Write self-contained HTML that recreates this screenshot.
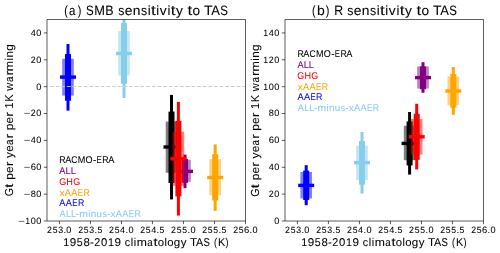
<!DOCTYPE html>
<html><head><meta charset="utf-8"><style>
html,body{margin:0;padding:0;background:#fff;width:500px;height:253px;overflow:hidden}
svg{display:block;will-change:transform}
text{font-family:"Liberation Sans", sans-serif}
g.t{stroke-width:0.06px}
</style></head><body>
<svg width="500" height="253" viewBox="0 0 500 253" text-rendering="geometricPrecision">
<rect x="0" y="0" width="500" height="253" fill="#fff"/>
<clipPath id="c0"><rect x="47.0" y="19.5" width="198.5" height="201.5"/></clipPath>
<clipPath id="c1"><rect x="285.0" y="19.5" width="198.5" height="201.5"/></clipPath>
<g clip-path="url(#c0)"><rect x="165.70" y="121.60" width="11.60" height="51.20" fill="#000000" fill-opacity="0.5"/><rect x="168.50" y="111.60" width="6.00" height="71.40" fill="#000000"/><rect x="170.00" y="94.90" width="3.00" height="104.50" fill="#000000"/><rect x="163.50" y="145.30" width="16.00" height="3.40" fill="#000000"/><rect x="179.20" y="159.80" width="11.60" height="22.00" fill="#800080" fill-opacity="0.5"/><rect x="182.00" y="158.90" width="6.00" height="23.90" fill="#800080"/><rect x="183.50" y="154.60" width="3.00" height="33.60" fill="#800080"/><rect x="177.00" y="169.70" width="16.00" height="3.40" fill="#800080"/><rect x="172.60" y="131.80" width="11.60" height="54.00" fill="#ff0000" fill-opacity="0.5"/><rect x="175.40" y="120.80" width="6.00" height="75.60" fill="#ff0000"/><rect x="176.90" y="101.90" width="3.00" height="113.70" fill="#ff0000"/><rect x="170.40" y="157.10" width="16.00" height="3.40" fill="#ff0000"/><rect x="209.40" y="159.20" width="11.60" height="36.00" fill="#ffa500" fill-opacity="0.5"/><rect x="212.20" y="154.20" width="6.00" height="46.20" fill="#ffa500"/><rect x="213.70" y="144.40" width="3.00" height="66.40" fill="#ffa500"/><rect x="207.20" y="175.80" width="16.00" height="3.40" fill="#ffa500"/><rect x="62.20" y="58.80" width="11.60" height="36.80" fill="#0000ff" fill-opacity="0.5"/><rect x="65.00" y="54.00" width="6.00" height="46.70" fill="#0000ff"/><rect x="66.50" y="44.00" width="3.00" height="66.60" fill="#0000ff"/><rect x="60.00" y="75.40" width="16.00" height="3.40" fill="#0000ff"/><rect x="118.20" y="31.00" width="11.60" height="44.60" fill="#87ceeb" fill-opacity="0.5"/><rect x="121.00" y="23.00" width="6.00" height="60.60" fill="#87ceeb"/><rect x="122.50" y="15.00" width="3.00" height="83.00" fill="#87ceeb"/><rect x="116.00" y="51.80" width="16.00" height="3.40" fill="#87ceeb"/></g>
<line x1="49.8" y1="86.5" x2="245.5" y2="86.5" stroke="#cccccc" stroke-width="1" stroke-dasharray="3.8 1.86"/>
<g clip-path="url(#c1)"><rect x="403.80" y="125.80" width="11.60" height="34.40" fill="#000000" fill-opacity="0.5"/><rect x="406.60" y="121.40" width="6.00" height="44.00" fill="#000000"/><rect x="408.10" y="112.00" width="3.00" height="62.60" fill="#000000"/><rect x="401.60" y="141.70" width="16.00" height="3.40" fill="#000000"/><rect x="417.20" y="66.40" width="11.60" height="22.20" fill="#800080" fill-opacity="0.5"/><rect x="420.00" y="66.40" width="6.00" height="22.80" fill="#800080"/><rect x="421.50" y="62.20" width="3.00" height="30.60" fill="#800080"/><rect x="415.00" y="75.90" width="16.00" height="3.40" fill="#800080"/><rect x="410.90" y="119.00" width="11.60" height="35.60" fill="#ff0000" fill-opacity="0.5"/><rect x="413.70" y="113.80" width="6.00" height="46.00" fill="#ff0000"/><rect x="415.20" y="103.80" width="3.00" height="65.60" fill="#ff0000"/><rect x="408.70" y="135.10" width="16.00" height="3.40" fill="#ff0000"/><rect x="447.50" y="76.40" width="11.60" height="28.80" fill="#ffa500" fill-opacity="0.5"/><rect x="450.30" y="74.00" width="6.00" height="33.60" fill="#ffa500"/><rect x="451.80" y="67.00" width="3.00" height="47.80" fill="#ffa500"/><rect x="445.30" y="89.30" width="16.00" height="3.40" fill="#ffa500"/><rect x="300.40" y="172.00" width="11.60" height="26.40" fill="#0000ff" fill-opacity="0.5"/><rect x="303.20" y="170.60" width="6.00" height="29.40" fill="#0000ff"/><rect x="304.70" y="165.20" width="3.00" height="40.00" fill="#0000ff"/><rect x="298.20" y="183.70" width="16.00" height="3.40" fill="#0000ff"/><rect x="356.20" y="145.80" width="11.60" height="34.20" fill="#87ceeb" fill-opacity="0.5"/><rect x="359.00" y="141.00" width="6.00" height="43.60" fill="#87ceeb"/><rect x="360.50" y="132.00" width="3.00" height="61.60" fill="#87ceeb"/><rect x="354.00" y="160.90" width="16.00" height="3.40" fill="#87ceeb"/></g>
<path d="M47.0,19.5 L245.5,19.5 L245.5,221.0 L47.0,221.0 Z" fill="none" stroke="#000" stroke-width="0.64"/>
<path d="M285.0,19.5 L483.5,19.5 L483.5,221.0 L285.0,221.0 Z" fill="none" stroke="#000" stroke-width="0.64"/>
<line x1="59.41" y1="221.0" x2="59.41" y2="224.2" stroke="#000" stroke-width="0.64"/>
<g class="t" transform="translate(0,232.80)" font-size="9.5" fill="#000" stroke="#000"><text transform="translate(49.47,0.00) scale(0.926,0.969)" x="-2.64" y="-0.00">2</text><text transform="translate(55.05,0.00) scale(0.907,0.966)" x="-2.63" y="-0.00">5</text><text transform="translate(60.59,0.00) scale(0.923,0.969)" x="-2.61" y="-0.00">3</text><text transform="translate(64.73,0.00) scale(0.986,1.057)" x="-1.32" y="-0.00">.</text><text transform="translate(68.87,0.00) scale(0.961,0.969)" x="-2.64" y="-0.00">0</text></g>
<line x1="90.42" y1="221.0" x2="90.42" y2="224.2" stroke="#000" stroke-width="0.64"/>
<g class="t" transform="translate(0,232.80)" font-size="9.5" fill="#000" stroke="#000"><text transform="translate(80.58,0.00) scale(0.926,0.969)" x="-2.64" y="-0.00">2</text><text transform="translate(86.16,0.00) scale(0.907,0.966)" x="-2.63" y="-0.00">5</text><text transform="translate(91.69,0.00) scale(0.923,0.969)" x="-2.61" y="-0.00">3</text><text transform="translate(95.84,0.00) scale(0.986,1.057)" x="-1.32" y="-0.00">.</text><text transform="translate(99.93,0.00) scale(0.907,0.966)" x="-2.63" y="-0.00">5</text></g>
<line x1="121.44" y1="221.0" x2="121.44" y2="224.2" stroke="#000" stroke-width="0.64"/>
<g class="t" transform="translate(0,232.80)" font-size="9.5" fill="#000" stroke="#000"><text transform="translate(111.50,0.00) scale(0.926,0.969)" x="-2.64" y="-0.00">2</text><text transform="translate(117.08,0.00) scale(0.907,0.966)" x="-2.63" y="-0.00">5</text><text transform="translate(122.60,0.00) scale(0.961,0.966)" x="-2.61" y="-0.00">4</text><text transform="translate(126.76,0.00) scale(0.986,1.057)" x="-1.32" y="-0.00">.</text><text transform="translate(130.90,0.00) scale(0.961,0.969)" x="-2.64" y="-0.00">0</text></g>
<line x1="152.45" y1="221.0" x2="152.45" y2="224.2" stroke="#000" stroke-width="0.64"/>
<g class="t" transform="translate(0,232.80)" font-size="9.5" fill="#000" stroke="#000"><text transform="translate(142.61,0.00) scale(0.926,0.969)" x="-2.64" y="-0.00">2</text><text transform="translate(148.19,0.00) scale(0.907,0.966)" x="-2.63" y="-0.00">5</text><text transform="translate(153.71,0.00) scale(0.961,0.966)" x="-2.61" y="-0.00">4</text><text transform="translate(157.87,0.00) scale(0.986,1.057)" x="-1.32" y="-0.00">.</text><text transform="translate(161.96,0.00) scale(0.907,0.966)" x="-2.63" y="-0.00">5</text></g>
<line x1="183.47" y1="221.0" x2="183.47" y2="224.2" stroke="#000" stroke-width="0.64"/>
<g class="t" transform="translate(0,232.80)" font-size="9.5" fill="#000" stroke="#000"><text transform="translate(173.53,0.00) scale(0.926,0.969)" x="-2.64" y="-0.00">2</text><text transform="translate(179.11,0.00) scale(0.907,0.966)" x="-2.63" y="-0.00">5</text><text transform="translate(184.62,0.00) scale(0.907,0.966)" x="-2.63" y="-0.00">5</text><text transform="translate(188.79,0.00) scale(0.986,1.057)" x="-1.32" y="-0.00">.</text><text transform="translate(192.93,0.00) scale(0.961,0.969)" x="-2.64" y="-0.00">0</text></g>
<line x1="214.48" y1="221.0" x2="214.48" y2="224.2" stroke="#000" stroke-width="0.64"/>
<g class="t" transform="translate(0,232.80)" font-size="9.5" fill="#000" stroke="#000"><text transform="translate(204.64,0.00) scale(0.926,0.969)" x="-2.64" y="-0.00">2</text><text transform="translate(210.22,0.00) scale(0.907,0.966)" x="-2.63" y="-0.00">5</text><text transform="translate(215.73,0.00) scale(0.907,0.966)" x="-2.63" y="-0.00">5</text><text transform="translate(219.90,0.00) scale(0.986,1.057)" x="-1.32" y="-0.00">.</text><text transform="translate(223.99,0.00) scale(0.907,0.966)" x="-2.63" y="-0.00">5</text></g>
<line x1="245.50" y1="221.0" x2="245.50" y2="224.2" stroke="#000" stroke-width="0.64"/>
<g class="t" transform="translate(0,232.80)" font-size="9.5" fill="#000" stroke="#000"><text transform="translate(235.56,0.00) scale(0.926,0.969)" x="-2.64" y="-0.00">2</text><text transform="translate(241.14,0.00) scale(0.907,0.966)" x="-2.63" y="-0.00">5</text><text transform="translate(246.73,0.00) scale(0.995,0.969)" x="-2.67" y="-0.00">6</text><text transform="translate(250.83,0.00) scale(0.986,1.057)" x="-1.32" y="-0.00">.</text><text transform="translate(254.96,0.00) scale(0.961,0.969)" x="-2.64" y="-0.00">0</text></g>
<line x1="297.41" y1="221.0" x2="297.41" y2="224.2" stroke="#000" stroke-width="0.64"/>
<g class="t" transform="translate(0,232.80)" font-size="9.5" fill="#000" stroke="#000"><text transform="translate(287.47,0.00) scale(0.926,0.969)" x="-2.64" y="-0.00">2</text><text transform="translate(293.05,0.00) scale(0.907,0.966)" x="-2.63" y="-0.00">5</text><text transform="translate(298.59,0.00) scale(0.923,0.969)" x="-2.61" y="-0.00">3</text><text transform="translate(302.73,0.00) scale(0.986,1.057)" x="-1.32" y="-0.00">.</text><text transform="translate(306.87,0.00) scale(0.961,0.969)" x="-2.64" y="-0.00">0</text></g>
<line x1="328.42" y1="221.0" x2="328.42" y2="224.2" stroke="#000" stroke-width="0.64"/>
<g class="t" transform="translate(0,232.80)" font-size="9.5" fill="#000" stroke="#000"><text transform="translate(318.58,0.00) scale(0.926,0.969)" x="-2.64" y="-0.00">2</text><text transform="translate(324.16,0.00) scale(0.907,0.966)" x="-2.63" y="-0.00">5</text><text transform="translate(329.69,0.00) scale(0.923,0.969)" x="-2.61" y="-0.00">3</text><text transform="translate(333.84,0.00) scale(0.986,1.057)" x="-1.32" y="-0.00">.</text><text transform="translate(337.93,0.00) scale(0.907,0.966)" x="-2.63" y="-0.00">5</text></g>
<line x1="359.44" y1="221.0" x2="359.44" y2="224.2" stroke="#000" stroke-width="0.64"/>
<g class="t" transform="translate(0,232.80)" font-size="9.5" fill="#000" stroke="#000"><text transform="translate(349.50,0.00) scale(0.926,0.969)" x="-2.64" y="-0.00">2</text><text transform="translate(355.08,0.00) scale(0.907,0.966)" x="-2.63" y="-0.00">5</text><text transform="translate(360.60,0.00) scale(0.961,0.966)" x="-2.61" y="-0.00">4</text><text transform="translate(364.76,0.00) scale(0.986,1.057)" x="-1.32" y="-0.00">.</text><text transform="translate(368.90,0.00) scale(0.961,0.969)" x="-2.64" y="-0.00">0</text></g>
<line x1="390.45" y1="221.0" x2="390.45" y2="224.2" stroke="#000" stroke-width="0.64"/>
<g class="t" transform="translate(0,232.80)" font-size="9.5" fill="#000" stroke="#000"><text transform="translate(380.61,0.00) scale(0.926,0.969)" x="-2.64" y="-0.00">2</text><text transform="translate(386.19,0.00) scale(0.907,0.966)" x="-2.63" y="-0.00">5</text><text transform="translate(391.71,0.00) scale(0.961,0.966)" x="-2.61" y="-0.00">4</text><text transform="translate(395.87,0.00) scale(0.986,1.057)" x="-1.32" y="-0.00">.</text><text transform="translate(399.96,0.00) scale(0.907,0.966)" x="-2.63" y="-0.00">5</text></g>
<line x1="421.47" y1="221.0" x2="421.47" y2="224.2" stroke="#000" stroke-width="0.64"/>
<g class="t" transform="translate(0,232.80)" font-size="9.5" fill="#000" stroke="#000"><text transform="translate(411.53,0.00) scale(0.926,0.969)" x="-2.64" y="-0.00">2</text><text transform="translate(417.11,0.00) scale(0.907,0.966)" x="-2.63" y="-0.00">5</text><text transform="translate(422.62,0.00) scale(0.907,0.966)" x="-2.63" y="-0.00">5</text><text transform="translate(426.79,0.00) scale(0.986,1.057)" x="-1.32" y="-0.00">.</text><text transform="translate(430.93,0.00) scale(0.961,0.969)" x="-2.64" y="-0.00">0</text></g>
<line x1="452.48" y1="221.0" x2="452.48" y2="224.2" stroke="#000" stroke-width="0.64"/>
<g class="t" transform="translate(0,232.80)" font-size="9.5" fill="#000" stroke="#000"><text transform="translate(442.64,0.00) scale(0.926,0.969)" x="-2.64" y="-0.00">2</text><text transform="translate(448.22,0.00) scale(0.907,0.966)" x="-2.63" y="-0.00">5</text><text transform="translate(453.73,0.00) scale(0.907,0.966)" x="-2.63" y="-0.00">5</text><text transform="translate(457.90,0.00) scale(0.986,1.057)" x="-1.32" y="-0.00">.</text><text transform="translate(461.99,0.00) scale(0.907,0.966)" x="-2.63" y="-0.00">5</text></g>
<line x1="483.50" y1="221.0" x2="483.50" y2="224.2" stroke="#000" stroke-width="0.64"/>
<g class="t" transform="translate(0,232.80)" font-size="9.5" fill="#000" stroke="#000"><text transform="translate(473.56,0.00) scale(0.926,0.969)" x="-2.64" y="-0.00">2</text><text transform="translate(479.14,0.00) scale(0.907,0.966)" x="-2.63" y="-0.00">5</text><text transform="translate(484.73,0.00) scale(0.995,0.969)" x="-2.67" y="-0.00">6</text><text transform="translate(488.83,0.00) scale(0.986,1.057)" x="-1.32" y="-0.00">.</text><text transform="translate(492.96,0.00) scale(0.961,0.969)" x="-2.64" y="-0.00">0</text></g>
<line x1="43.8" y1="221.00" x2="47.0" y2="221.00" stroke="#000" stroke-width="0.64"/>
<g class="t" transform="translate(0,223.85)" font-size="9.5" fill="#000" stroke="#000"><text transform="translate(21.42,0.00) scale(1.175,0.879)" x="-2.78" y="-0.00">−</text><text transform="translate(27.88,0.00) scale(0.918,0.966)" x="-2.77" y="-0.00">1</text><text transform="translate(33.31,0.00) scale(0.961,0.969)" x="-2.64" y="-0.00">0</text><text transform="translate(38.82,0.00) scale(0.961,0.969)" x="-2.64" y="-0.00">0</text></g>
<line x1="43.8" y1="194.13" x2="47.0" y2="194.13" stroke="#000" stroke-width="0.64"/>
<g class="t" transform="translate(0,196.98)" font-size="9.5" fill="#000" stroke="#000"><text transform="translate(26.93,0.00) scale(1.175,0.879)" x="-2.78" y="-0.00">−</text><text transform="translate(33.31,0.00) scale(0.971,0.969)" x="-2.64" y="-0.00">8</text><text transform="translate(38.82,0.00) scale(0.961,0.969)" x="-2.64" y="-0.00">0</text></g>
<line x1="43.8" y1="167.27" x2="47.0" y2="167.27" stroke="#000" stroke-width="0.64"/>
<g class="t" transform="translate(0,170.12)" font-size="9.5" fill="#000" stroke="#000"><text transform="translate(26.93,0.00) scale(1.175,0.879)" x="-2.78" y="-0.00">−</text><text transform="translate(33.34,0.00) scale(0.995,0.969)" x="-2.67" y="-0.00">6</text><text transform="translate(38.82,0.00) scale(0.961,0.969)" x="-2.64" y="-0.00">0</text></g>
<line x1="43.8" y1="140.40" x2="47.0" y2="140.40" stroke="#000" stroke-width="0.64"/>
<g class="t" transform="translate(0,143.25)" font-size="9.5" fill="#000" stroke="#000"><text transform="translate(26.93,0.00) scale(1.175,0.879)" x="-2.78" y="-0.00">−</text><text transform="translate(33.28,0.00) scale(0.961,0.966)" x="-2.61" y="-0.00">4</text><text transform="translate(38.82,0.00) scale(0.961,0.969)" x="-2.64" y="-0.00">0</text></g>
<line x1="43.8" y1="113.53" x2="47.0" y2="113.53" stroke="#000" stroke-width="0.64"/>
<g class="t" transform="translate(0,116.38)" font-size="9.5" fill="#000" stroke="#000"><text transform="translate(26.93,0.00) scale(1.175,0.879)" x="-2.78" y="-0.00">−</text><text transform="translate(33.19,0.00) scale(0.926,0.969)" x="-2.64" y="-0.00">2</text><text transform="translate(38.82,0.00) scale(0.961,0.969)" x="-2.64" y="-0.00">0</text></g>
<line x1="43.8" y1="86.67" x2="47.0" y2="86.67" stroke="#000" stroke-width="0.64"/>
<g class="t" transform="translate(0,89.52)" font-size="9.5" fill="#000" stroke="#000"><text transform="translate(38.82,0.00) scale(0.961,0.969)" x="-2.64" y="-0.00">0</text></g>
<line x1="43.8" y1="59.80" x2="47.0" y2="59.80" stroke="#000" stroke-width="0.64"/>
<g class="t" transform="translate(0,62.65)" font-size="9.5" fill="#000" stroke="#000"><text transform="translate(33.19,0.00) scale(0.926,0.969)" x="-2.64" y="-0.00">2</text><text transform="translate(38.82,0.00) scale(0.961,0.969)" x="-2.64" y="-0.00">0</text></g>
<line x1="43.8" y1="32.93" x2="47.0" y2="32.93" stroke="#000" stroke-width="0.64"/>
<g class="t" transform="translate(0,35.78)" font-size="9.5" fill="#000" stroke="#000"><text transform="translate(33.28,0.00) scale(0.961,0.966)" x="-2.61" y="-0.00">4</text><text transform="translate(38.82,0.00) scale(0.961,0.969)" x="-2.64" y="-0.00">0</text></g>
<line x1="281.8" y1="221.00" x2="285.0" y2="221.00" stroke="#000" stroke-width="0.64"/>
<g class="t" transform="translate(0,223.85)" font-size="9.5" fill="#000" stroke="#000"><text transform="translate(276.82,0.00) scale(0.961,0.969)" x="-2.64" y="-0.00">0</text></g>
<line x1="281.8" y1="194.13" x2="285.0" y2="194.13" stroke="#000" stroke-width="0.64"/>
<g class="t" transform="translate(0,196.98)" font-size="9.5" fill="#000" stroke="#000"><text transform="translate(271.19,0.00) scale(0.926,0.969)" x="-2.64" y="-0.00">2</text><text transform="translate(276.82,0.00) scale(0.961,0.969)" x="-2.64" y="-0.00">0</text></g>
<line x1="281.8" y1="167.27" x2="285.0" y2="167.27" stroke="#000" stroke-width="0.64"/>
<g class="t" transform="translate(0,170.12)" font-size="9.5" fill="#000" stroke="#000"><text transform="translate(271.28,0.00) scale(0.961,0.966)" x="-2.61" y="-0.00">4</text><text transform="translate(276.82,0.00) scale(0.961,0.969)" x="-2.64" y="-0.00">0</text></g>
<line x1="281.8" y1="140.40" x2="285.0" y2="140.40" stroke="#000" stroke-width="0.64"/>
<g class="t" transform="translate(0,143.25)" font-size="9.5" fill="#000" stroke="#000"><text transform="translate(271.34,0.00) scale(0.995,0.969)" x="-2.67" y="-0.00">6</text><text transform="translate(276.82,0.00) scale(0.961,0.969)" x="-2.64" y="-0.00">0</text></g>
<line x1="281.8" y1="113.53" x2="285.0" y2="113.53" stroke="#000" stroke-width="0.64"/>
<g class="t" transform="translate(0,116.38)" font-size="9.5" fill="#000" stroke="#000"><text transform="translate(271.31,0.00) scale(0.971,0.969)" x="-2.64" y="-0.00">8</text><text transform="translate(276.82,0.00) scale(0.961,0.969)" x="-2.64" y="-0.00">0</text></g>
<line x1="281.8" y1="86.67" x2="285.0" y2="86.67" stroke="#000" stroke-width="0.64"/>
<g class="t" transform="translate(0,89.52)" font-size="9.5" fill="#000" stroke="#000"><text transform="translate(265.88,0.00) scale(0.918,0.966)" x="-2.77" y="-0.00">1</text><text transform="translate(271.31,0.00) scale(0.961,0.969)" x="-2.64" y="-0.00">0</text><text transform="translate(276.82,0.00) scale(0.961,0.969)" x="-2.64" y="-0.00">0</text></g>
<line x1="281.8" y1="59.80" x2="285.0" y2="59.80" stroke="#000" stroke-width="0.64"/>
<g class="t" transform="translate(0,62.65)" font-size="9.5" fill="#000" stroke="#000"><text transform="translate(265.88,0.00) scale(0.918,0.966)" x="-2.77" y="-0.00">1</text><text transform="translate(271.19,0.00) scale(0.926,0.969)" x="-2.64" y="-0.00">2</text><text transform="translate(276.82,0.00) scale(0.961,0.969)" x="-2.64" y="-0.00">0</text></g>
<line x1="281.8" y1="32.93" x2="285.0" y2="32.93" stroke="#000" stroke-width="0.64"/>
<g class="t" transform="translate(0,35.78)" font-size="9.5" fill="#000" stroke="#000"><text transform="translate(265.88,0.00) scale(0.918,0.966)" x="-2.77" y="-0.00">1</text><text transform="translate(271.28,0.00) scale(0.961,0.966)" x="-2.61" y="-0.00">4</text><text transform="translate(276.82,0.00) scale(0.961,0.969)" x="-2.64" y="-0.00">0</text></g>
<g class="t" transform="translate(0,14.90)" font-size="13.8" fill="#000" stroke="#000"><text transform="translate(66.34,0.00) scale(0.787,0.975)" x="-2.69" y="-0.00">(</text><text transform="translate(72.54,0.00) scale(0.837,0.969)" x="-4.13" y="-0.00">a</text><text transform="translate(79.15,0.00) scale(0.787,0.975)" x="-1.91" y="-0.00">)</text><text transform="translate(89.91,0.00) scale(0.830,0.989)" x="-4.60" y="-0.00">S</text><text transform="translate(99.47,0.00) scale(0.928,0.986)" x="-5.75" y="-0.00">M</text><text transform="translate(109.59,0.00) scale(0.904,0.986)" x="-4.80" y="-0.00">B</text><text transform="translate(121.28,0.00) scale(0.892,0.971)" x="-3.39" y="-0.00">s</text><text transform="translate(128.55,0.00) scale(1.005,0.969)" x="-3.82" y="-0.00">e</text><text transform="translate(136.60,0.00) scale(1.003,0.969)" x="-3.85" y="-0.00">n</text><text transform="translate(144.01,0.00) scale(0.892,0.971)" x="-3.39" y="-0.00">s</text><text transform="translate(149.11,0.00) scale(0.951,0.976)" x="-1.53" y="-0.00">i</text><text transform="translate(153.43,0.00) scale(1.244,1.011)" x="-1.97" y="-0.00">t</text><text transform="translate(157.71,0.00) scale(0.951,0.976)" x="-1.53" y="-0.00">i</text><text transform="translate(163.29,0.00) scale(1.004,0.963)" x="-3.45" y="-0.00">v</text><text transform="translate(168.88,0.00) scale(0.951,0.976)" x="-1.53" y="-0.00">i</text><text transform="translate(173.20,0.00) scale(1.244,1.011)" x="-1.97" y="-0.00">t</text><text transform="translate(179.50,0.00) scale(0.999,0.963)" x="-3.45" y="-0.00">y</text><text transform="translate(189.92,0.00) scale(1.244,1.011)" x="-1.97" y="-0.00">t</text><text transform="translate(196.35,0.00) scale(0.989,0.969)" x="-3.84" y="-0.00">o</text><text transform="translate(208.28,0.00) scale(1.015,0.986)" x="-4.21" y="-0.00">T</text><text transform="translate(215.57,0.00) scale(0.938,0.986)" x="-4.60" y="-0.00">A</text><text transform="translate(224.10,0.00) scale(0.830,0.989)" x="-4.60" y="-0.00">S</text></g>
<g class="t" transform="translate(0,14.90)" font-size="13.8" fill="#000" stroke="#000"><text transform="translate(314.19,0.00) scale(0.787,0.975)" x="-2.69" y="-0.00">(</text><text transform="translate(320.97,0.00) scale(1.013,0.976)" x="-3.99" y="-0.00">b</text><text transform="translate(327.28,0.00) scale(0.787,0.975)" x="-1.91" y="-0.00">)</text><text transform="translate(338.81,0.00) scale(0.890,0.986)" x="-5.23" y="-0.00">R</text><text transform="translate(350.29,0.00) scale(0.892,0.971)" x="-3.39" y="-0.00">s</text><text transform="translate(357.56,0.00) scale(1.005,0.969)" x="-3.82" y="-0.00">e</text><text transform="translate(365.61,0.00) scale(1.003,0.969)" x="-3.85" y="-0.00">n</text><text transform="translate(373.02,0.00) scale(0.892,0.971)" x="-3.39" y="-0.00">s</text><text transform="translate(378.12,0.00) scale(0.951,0.976)" x="-1.53" y="-0.00">i</text><text transform="translate(382.44,0.00) scale(1.244,1.011)" x="-1.97" y="-0.00">t</text><text transform="translate(386.72,0.00) scale(0.951,0.976)" x="-1.53" y="-0.00">i</text><text transform="translate(392.31,0.00) scale(1.004,0.963)" x="-3.45" y="-0.00">v</text><text transform="translate(397.89,0.00) scale(0.951,0.976)" x="-1.53" y="-0.00">i</text><text transform="translate(402.21,0.00) scale(1.244,1.011)" x="-1.97" y="-0.00">t</text><text transform="translate(408.51,0.00) scale(0.999,0.963)" x="-3.45" y="-0.00">y</text><text transform="translate(418.93,0.00) scale(1.244,1.011)" x="-1.97" y="-0.00">t</text><text transform="translate(425.36,0.00) scale(0.989,0.969)" x="-3.84" y="-0.00">o</text><text transform="translate(437.29,0.00) scale(1.015,0.986)" x="-4.21" y="-0.00">T</text><text transform="translate(444.58,0.00) scale(0.938,0.986)" x="-4.60" y="-0.00">A</text><text transform="translate(453.12,0.00) scale(0.830,0.989)" x="-4.60" y="-0.00">S</text></g>
<g class="t" transform="translate(0,245.50)" font-size="11.2" fill="#000" stroke="#000"><text transform="translate(66.33,0.00) scale(0.963,1.014)" x="-3.27" y="-0.00">1</text><text transform="translate(73.01,0.00) scale(1.042,1.017)" x="-3.11" y="-0.00">9</text><text transform="translate(79.81,0.00) scale(0.952,1.014)" x="-3.10" y="-0.00">5</text><text transform="translate(86.68,0.00) scale(1.019,1.017)" x="-3.11" y="-0.00">8</text><text transform="translate(92.02,0.00) scale(1.031,0.986)" x="-1.86" y="-0.00">-</text><text transform="translate(97.22,0.00) scale(0.972,1.017)" x="-3.11" y="-0.00">2</text><text transform="translate(104.18,0.00) scale(1.008,1.017)" x="-3.11" y="-0.00">0</text><text transform="translate(111.09,0.00) scale(0.963,1.014)" x="-3.27" y="-0.00">1</text><text transform="translate(117.78,0.00) scale(1.042,1.017)" x="-3.11" y="-0.00">9</text><text transform="translate(127.54,0.00) scale(0.960,0.996)" x="-2.89" y="-0.00">c</text><text transform="translate(132.01,0.00) scale(0.978,1.003)" x="-1.25" y="-0.00">l</text><text transform="translate(134.99,0.00) scale(0.978,1.003)" x="-1.24" y="-0.00">i</text><text transform="translate(141.72,0.00) scale(1.090,0.996)" x="-4.67" y="-0.00">m</text><text transform="translate(150.03,0.00) scale(0.860,0.996)" x="-3.35" y="-0.00">a</text><text transform="translate(155.59,0.00) scale(1.279,1.039)" x="-1.60" y="-0.00">t</text><text transform="translate(160.96,0.00) scale(1.017,0.996)" x="-3.11" y="-0.00">o</text><text transform="translate(165.72,0.00) scale(0.978,1.003)" x="-1.25" y="-0.00">l</text><text transform="translate(170.49,0.00) scale(1.017,0.996)" x="-3.11" y="-0.00">o</text><text transform="translate(176.97,0.00) scale(1.040,0.998)" x="-2.99" y="-0.00">g</text><text transform="translate(183.73,0.00) scale(1.027,0.990)" x="-2.80" y="-0.00">y</text><text transform="translate(193.58,0.00) scale(1.043,1.014)" x="-3.42" y="-0.00">T</text><text transform="translate(199.66,0.00) scale(0.964,1.014)" x="-3.74" y="-0.00">A</text><text transform="translate(206.78,0.00) scale(0.853,1.017)" x="-3.73" y="-0.00">S</text><text transform="translate(215.66,0.00) scale(0.809,1.002)" x="-2.18" y="-0.00">(</text><text transform="translate(221.87,0.00) scale(0.965,1.014)" x="-4.13" y="-0.00">K</text><text transform="translate(226.80,0.00) scale(0.809,1.002)" x="-1.55" y="-0.00">)</text></g>
<g class="t" transform="translate(0,245.50)" font-size="11.2" fill="#000" stroke="#000"><text transform="translate(304.33,0.00) scale(0.963,1.014)" x="-3.27" y="-0.00">1</text><text transform="translate(311.01,0.00) scale(1.042,1.017)" x="-3.11" y="-0.00">9</text><text transform="translate(317.81,0.00) scale(0.952,1.014)" x="-3.10" y="-0.00">5</text><text transform="translate(324.68,0.00) scale(1.019,1.017)" x="-3.11" y="-0.00">8</text><text transform="translate(330.02,0.00) scale(1.031,0.986)" x="-1.86" y="-0.00">-</text><text transform="translate(335.22,0.00) scale(0.972,1.017)" x="-3.11" y="-0.00">2</text><text transform="translate(342.18,0.00) scale(1.008,1.017)" x="-3.11" y="-0.00">0</text><text transform="translate(349.09,0.00) scale(0.963,1.014)" x="-3.27" y="-0.00">1</text><text transform="translate(355.78,0.00) scale(1.042,1.017)" x="-3.11" y="-0.00">9</text><text transform="translate(365.54,0.00) scale(0.960,0.996)" x="-2.89" y="-0.00">c</text><text transform="translate(370.01,0.00) scale(0.978,1.003)" x="-1.25" y="-0.00">l</text><text transform="translate(372.99,0.00) scale(0.978,1.003)" x="-1.24" y="-0.00">i</text><text transform="translate(379.72,0.00) scale(1.090,0.996)" x="-4.67" y="-0.00">m</text><text transform="translate(388.03,0.00) scale(0.860,0.996)" x="-3.35" y="-0.00">a</text><text transform="translate(393.59,0.00) scale(1.279,1.039)" x="-1.60" y="-0.00">t</text><text transform="translate(398.96,0.00) scale(1.017,0.996)" x="-3.11" y="-0.00">o</text><text transform="translate(403.72,0.00) scale(0.978,1.003)" x="-1.25" y="-0.00">l</text><text transform="translate(408.49,0.00) scale(1.017,0.996)" x="-3.11" y="-0.00">o</text><text transform="translate(414.97,0.00) scale(1.040,0.998)" x="-2.99" y="-0.00">g</text><text transform="translate(421.73,0.00) scale(1.027,0.990)" x="-2.80" y="-0.00">y</text><text transform="translate(431.58,0.00) scale(1.043,1.014)" x="-3.42" y="-0.00">T</text><text transform="translate(437.66,0.00) scale(0.964,1.014)" x="-3.74" y="-0.00">A</text><text transform="translate(444.78,0.00) scale(0.853,1.017)" x="-3.73" y="-0.00">S</text><text transform="translate(453.66,0.00) scale(0.809,1.002)" x="-2.18" y="-0.00">(</text><text transform="translate(459.87,0.00) scale(0.965,1.014)" x="-4.13" y="-0.00">K</text><text transform="translate(464.80,0.00) scale(0.809,1.002)" x="-1.55" y="-0.00">)</text></g>
<g class="t" transform="translate(13.10,195.70) rotate(-90)" font-size="11.2" fill="#000" stroke="#000"><text transform="translate(3.48,0.00) scale(0.952,1.038)" x="-4.22" y="-0.00">G</text><text transform="translate(10.02,0.00) scale(1.305,1.061)" x="-1.60" y="-0.00">t</text><text transform="translate(19.30,0.00) scale(1.062,1.017)" x="-3.24" y="-0.00">p</text><text transform="translate(25.94,0.00) scale(1.055,1.016)" x="-3.10" y="-0.00">e</text><text transform="translate(32.04,0.00) scale(1.251,1.016)" x="-2.14" y="-0.00">r</text><text transform="translate(40.51,0.00) scale(1.049,1.011)" x="-2.80" y="-0.00">y</text><text transform="translate(47.12,0.00) scale(1.055,1.016)" x="-3.10" y="-0.00">e</text><text transform="translate(53.66,0.00) scale(0.878,1.016)" x="-3.35" y="-0.00">a</text><text transform="translate(59.92,0.00) scale(1.251,1.016)" x="-2.14" y="-0.00">r</text><text transform="translate(68.82,0.00) scale(1.062,1.017)" x="-3.24" y="-0.00">p</text><text transform="translate(75.47,0.00) scale(1.055,1.016)" x="-3.10" y="-0.00">e</text><text transform="translate(81.56,0.00) scale(1.251,1.016)" x="-2.14" y="-0.00">r</text><text transform="translate(90.37,0.00) scale(0.983,1.035)" x="-3.27" y="-0.00">1</text><text transform="translate(97.99,0.00) scale(0.985,1.035)" x="-4.13" y="-0.00">K</text><text transform="translate(108.87,0.00) scale(0.987,1.011)" x="-4.05" y="-0.00">w</text><text transform="translate(116.53,0.00) scale(0.878,1.016)" x="-3.35" y="-0.00">a</text><text transform="translate(122.79,0.00) scale(1.251,1.016)" x="-2.14" y="-0.00">r</text><text transform="translate(129.69,0.00) scale(1.113,1.016)" x="-4.67" y="-0.00">m</text><text transform="translate(136.50,0.00) scale(0.998,1.024)" x="-1.24" y="-0.00">i</text><text transform="translate(141.52,0.00) scale(1.053,1.016)" x="-3.12" y="-0.00">n</text><text transform="translate(148.23,0.00) scale(1.061,1.019)" x="-2.99" y="-0.00">g</text></g>
<g class="t" transform="translate(258.60,196.10) rotate(-90)" font-size="11.2" fill="#000" stroke="#000"><text transform="translate(3.48,0.00) scale(0.952,1.038)" x="-4.22" y="-0.00">G</text><text transform="translate(10.02,0.00) scale(1.305,1.061)" x="-1.60" y="-0.00">t</text><text transform="translate(19.30,0.00) scale(1.062,1.017)" x="-3.24" y="-0.00">p</text><text transform="translate(25.94,0.00) scale(1.055,1.016)" x="-3.10" y="-0.00">e</text><text transform="translate(32.04,0.00) scale(1.251,1.016)" x="-2.14" y="-0.00">r</text><text transform="translate(40.51,0.00) scale(1.049,1.011)" x="-2.80" y="-0.00">y</text><text transform="translate(47.12,0.00) scale(1.055,1.016)" x="-3.10" y="-0.00">e</text><text transform="translate(53.66,0.00) scale(0.878,1.016)" x="-3.35" y="-0.00">a</text><text transform="translate(59.92,0.00) scale(1.251,1.016)" x="-2.14" y="-0.00">r</text><text transform="translate(68.82,0.00) scale(1.062,1.017)" x="-3.24" y="-0.00">p</text><text transform="translate(75.47,0.00) scale(1.055,1.016)" x="-3.10" y="-0.00">e</text><text transform="translate(81.56,0.00) scale(1.251,1.016)" x="-2.14" y="-0.00">r</text><text transform="translate(90.37,0.00) scale(0.983,1.035)" x="-3.27" y="-0.00">1</text><text transform="translate(97.99,0.00) scale(0.985,1.035)" x="-4.13" y="-0.00">K</text><text transform="translate(108.87,0.00) scale(0.987,1.011)" x="-4.05" y="-0.00">w</text><text transform="translate(116.53,0.00) scale(0.878,1.016)" x="-3.35" y="-0.00">a</text><text transform="translate(122.79,0.00) scale(1.251,1.016)" x="-2.14" y="-0.00">r</text><text transform="translate(129.69,0.00) scale(1.113,1.016)" x="-4.67" y="-0.00">m</text><text transform="translate(136.50,0.00) scale(0.998,1.024)" x="-1.24" y="-0.00">i</text><text transform="translate(141.52,0.00) scale(1.053,1.016)" x="-3.12" y="-0.00">n</text><text transform="translate(148.23,0.00) scale(1.061,1.019)" x="-2.99" y="-0.00">g</text></g>
<g class="t" transform="translate(0,163.10)" font-size="9.9" fill="#000000" stroke="#000000"><text transform="translate(62.60,0.00) scale(0.885,0.981)" x="-3.75" y="-0.00">R</text><text transform="translate(68.23,0.00) scale(0.933,0.981)" x="-3.30" y="-0.00">A</text><text transform="translate(74.40,0.00) scale(0.859,0.984)" x="-3.64" y="-0.00">C</text><text transform="translate(81.54,0.00) scale(0.923,0.981)" x="-4.12" y="-0.00">M</text><text transform="translate(89.10,0.00) scale(0.915,0.984)" x="-3.85" y="-0.00">O</text><text transform="translate(94.64,0.00) scale(0.998,0.954)" x="-1.65" y="-0.00">-</text><text transform="translate(99.34,0.00) scale(0.802,0.981)" x="-3.49" y="-0.00">E</text><text transform="translate(105.58,0.00) scale(0.885,0.981)" x="-3.75" y="-0.00">R</text><text transform="translate(111.21,0.00) scale(0.933,0.981)" x="-3.30" y="-0.00">A</text></g>
<g class="t" transform="translate(0,57.10)" font-size="9.9" fill="#000000" stroke="#000000"><text transform="translate(300.80,0.00) scale(0.885,0.981)" x="-3.75" y="-0.00">R</text><text transform="translate(306.43,0.00) scale(0.933,0.981)" x="-3.30" y="-0.00">A</text><text transform="translate(312.60,0.00) scale(0.859,0.984)" x="-3.64" y="-0.00">C</text><text transform="translate(319.74,0.00) scale(0.923,0.981)" x="-4.12" y="-0.00">M</text><text transform="translate(327.30,0.00) scale(0.915,0.984)" x="-3.85" y="-0.00">O</text><text transform="translate(332.84,0.00) scale(0.998,0.954)" x="-1.65" y="-0.00">-</text><text transform="translate(337.54,0.00) scale(0.802,0.981)" x="-3.49" y="-0.00">E</text><text transform="translate(343.78,0.00) scale(0.885,0.981)" x="-3.75" y="-0.00">R</text><text transform="translate(349.41,0.00) scale(0.933,0.981)" x="-3.30" y="-0.00">A</text></g>
<g class="t" transform="translate(0,173.90)" font-size="9.9" fill="#800080" stroke="#800080"><text transform="translate(62.26,0.00) scale(0.933,0.981)" x="-3.30" y="-0.00">A</text><text transform="translate(68.38,0.00) scale(0.952,0.981)" x="-2.99" y="-0.00">L</text><text transform="translate(73.48,0.00) scale(0.952,0.981)" x="-2.99" y="-0.00">L</text></g>
<g class="t" transform="translate(0,67.90)" font-size="9.9" fill="#800080" stroke="#800080"><text transform="translate(300.46,0.00) scale(0.933,0.981)" x="-3.30" y="-0.00">A</text><text transform="translate(306.58,0.00) scale(0.952,0.981)" x="-2.99" y="-0.00">L</text><text transform="translate(311.68,0.00) scale(0.952,0.981)" x="-2.99" y="-0.00">L</text></g>
<g class="t" transform="translate(0,184.70)" font-size="9.9" fill="#ff0000" stroke="#ff0000"><text transform="translate(62.52,0.00) scale(0.903,0.984)" x="-3.73" y="-0.00">G</text><text transform="translate(69.63,0.00) scale(0.921,0.981)" x="-3.58" y="-0.00">H</text><text transform="translate(76.51,0.00) scale(0.903,0.984)" x="-3.73" y="-0.00">G</text></g>
<g class="t" transform="translate(0,78.70)" font-size="9.9" fill="#ff0000" stroke="#ff0000"><text transform="translate(300.72,0.00) scale(0.903,0.984)" x="-3.73" y="-0.00">G</text><text transform="translate(307.83,0.00) scale(0.921,0.981)" x="-3.58" y="-0.00">H</text><text transform="translate(314.71,0.00) scale(0.903,0.984)" x="-3.73" y="-0.00">G</text></g>
<g class="t" transform="translate(0,195.50)" font-size="9.9" fill="#ffa500" stroke="#ffa500"><text transform="translate(62.03,0.00) scale(1.027,0.958)" x="-2.48" y="-0.00">x</text><text transform="translate(67.89,0.00) scale(0.933,0.981)" x="-3.30" y="-0.00">A</text><text transform="translate(74.44,0.00) scale(0.933,0.981)" x="-3.30" y="-0.00">A</text><text transform="translate(80.63,0.00) scale(0.802,0.981)" x="-3.49" y="-0.00">E</text><text transform="translate(86.87,0.00) scale(0.885,0.981)" x="-3.75" y="-0.00">R</text></g>
<g class="t" transform="translate(0,89.50)" font-size="9.9" fill="#ffa500" stroke="#ffa500"><text transform="translate(300.23,0.00) scale(1.027,0.958)" x="-2.48" y="-0.00">x</text><text transform="translate(306.09,0.00) scale(0.933,0.981)" x="-3.30" y="-0.00">A</text><text transform="translate(312.64,0.00) scale(0.933,0.981)" x="-3.30" y="-0.00">A</text><text transform="translate(318.83,0.00) scale(0.802,0.981)" x="-3.49" y="-0.00">E</text><text transform="translate(325.07,0.00) scale(0.885,0.981)" x="-3.75" y="-0.00">R</text></g>
<g class="t" transform="translate(0,206.30)" font-size="9.9" fill="#0000ff" stroke="#0000ff"><text transform="translate(62.26,0.00) scale(0.933,0.981)" x="-3.30" y="-0.00">A</text><text transform="translate(68.81,0.00) scale(0.933,0.981)" x="-3.30" y="-0.00">A</text><text transform="translate(74.99,0.00) scale(0.802,0.981)" x="-3.49" y="-0.00">E</text><text transform="translate(81.23,0.00) scale(0.885,0.981)" x="-3.75" y="-0.00">R</text></g>
<g class="t" transform="translate(0,100.30)" font-size="9.9" fill="#0000ff" stroke="#0000ff"><text transform="translate(300.46,0.00) scale(0.933,0.981)" x="-3.30" y="-0.00">A</text><text transform="translate(307.01,0.00) scale(0.933,0.981)" x="-3.30" y="-0.00">A</text><text transform="translate(313.19,0.00) scale(0.802,0.981)" x="-3.49" y="-0.00">E</text><text transform="translate(319.43,0.00) scale(0.885,0.981)" x="-3.75" y="-0.00">R</text></g>
<g class="t" transform="translate(0,217.10)" font-size="9.9" fill="#87ceeb" stroke="#87ceeb"><text transform="translate(62.66,0.00) scale(0.933,0.981)" x="-3.30" y="-0.00">A</text><text transform="translate(68.78,0.00) scale(0.952,0.981)" x="-2.99" y="-0.00">L</text><text transform="translate(73.88,0.00) scale(0.952,0.981)" x="-2.99" y="-0.00">L</text><text transform="translate(77.48,0.00) scale(0.998,0.954)" x="-1.65" y="-0.00">-</text><text transform="translate(83.62,0.00) scale(1.055,0.964)" x="-4.13" y="-0.00">m</text><text transform="translate(89.34,0.00) scale(0.946,0.971)" x="-1.10" y="-0.00">i</text><text transform="translate(93.54,0.00) scale(0.998,0.964)" x="-2.76" y="-0.00">n</text><text transform="translate(99.29,0.00) scale(0.998,0.981)" x="-2.75" y="-0.00">u</text><text transform="translate(104.64,0.00) scale(0.887,0.966)" x="-2.43" y="-0.00">s</text><text transform="translate(108.65,0.00) scale(0.998,0.954)" x="-1.65" y="-0.00">-</text><text transform="translate(113.00,0.00) scale(1.027,0.958)" x="-2.48" y="-0.00">x</text><text transform="translate(118.86,0.00) scale(0.933,0.981)" x="-3.30" y="-0.00">A</text><text transform="translate(125.41,0.00) scale(0.933,0.981)" x="-3.30" y="-0.00">A</text><text transform="translate(131.59,0.00) scale(0.802,0.981)" x="-3.49" y="-0.00">E</text><text transform="translate(137.84,0.00) scale(0.885,0.981)" x="-3.75" y="-0.00">R</text></g>
<g class="t" transform="translate(0,111.10)" font-size="9.9" fill="#87ceeb" stroke="#87ceeb"><text transform="translate(300.86,0.00) scale(0.933,0.981)" x="-3.30" y="-0.00">A</text><text transform="translate(306.98,0.00) scale(0.952,0.981)" x="-2.99" y="-0.00">L</text><text transform="translate(312.08,0.00) scale(0.952,0.981)" x="-2.99" y="-0.00">L</text><text transform="translate(315.68,0.00) scale(0.998,0.954)" x="-1.65" y="-0.00">-</text><text transform="translate(321.82,0.00) scale(1.055,0.964)" x="-4.13" y="-0.00">m</text><text transform="translate(327.54,0.00) scale(0.946,0.971)" x="-1.10" y="-0.00">i</text><text transform="translate(331.74,0.00) scale(0.998,0.964)" x="-2.76" y="-0.00">n</text><text transform="translate(337.49,0.00) scale(0.998,0.981)" x="-2.75" y="-0.00">u</text><text transform="translate(342.84,0.00) scale(0.887,0.966)" x="-2.43" y="-0.00">s</text><text transform="translate(346.85,0.00) scale(0.998,0.954)" x="-1.65" y="-0.00">-</text><text transform="translate(351.20,0.00) scale(1.027,0.958)" x="-2.48" y="-0.00">x</text><text transform="translate(357.06,0.00) scale(0.933,0.981)" x="-3.30" y="-0.00">A</text><text transform="translate(363.61,0.00) scale(0.933,0.981)" x="-3.30" y="-0.00">A</text><text transform="translate(369.79,0.00) scale(0.802,0.981)" x="-3.49" y="-0.00">E</text><text transform="translate(376.04,0.00) scale(0.885,0.981)" x="-3.75" y="-0.00">R</text></g>
</svg>
</body></html>
